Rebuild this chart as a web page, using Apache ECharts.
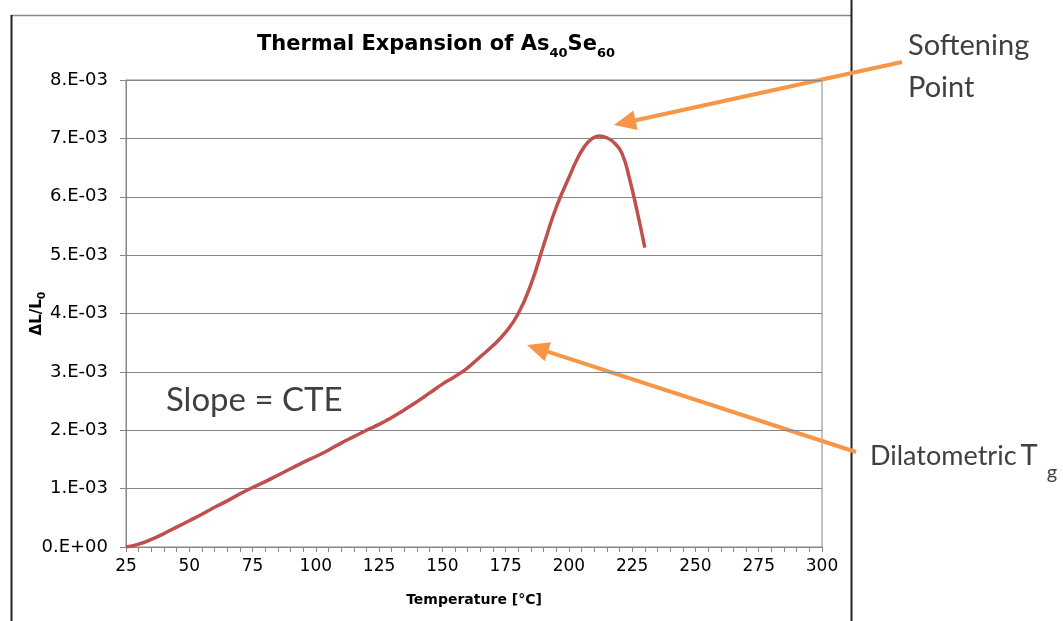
<!DOCTYPE html>
<html>
<head>
<meta charset="utf-8">
<script src="https://cdn.jsdelivr.net/npm/echarts@6/dist/echarts.min.js"></script>
<style>
html, body {margin: 0; padding: 0; background: #fff;}
#chart {width: 1063px; height: 621px;}
</style>
</head>
<body>
<div id="chart"></div>
<script>
// temperature in deg C, expansion dL/L0 in units of 1e-3
var temperature = [25, 30, 35, 40, 45, 50, 55, 60, 65, 70, 75, 80, 85, 90, 95, 100,
		   105, 110, 115, 120, 125, 130, 135, 140, 145, 150, 155, 160, 165, 170,
		   175, 180, 185, 190, 195, 200, 203, 206, 209, 212, 215, 218, 221, 224, 227, 230];
var expansionE3 = [0, 0.05, 0.13, 0.23, 0.34, 0.45, 0.56, 0.68, 0.79, 0.91, 1.02, 1.12, 1.23, 1.34, 1.45, 1.55,
		   1.66, 1.78, 1.89, 2.00, 2.10, 2.22, 2.35, 2.49, 2.64, 2.79, 2.92, 3.07, 3.26, 3.45,
		   3.68, 4.00, 4.50, 5.17, 5.82, 6.33, 6.62, 6.85, 6.99, 7.04, 7.01, 6.92, 6.74, 6.30, 5.74, 5.13];

var xRange = [25, 300, 25];
var yRange = [0, 0.008, 0.001];

var notes = {
    softening: ['Softening', 'Point'],
    slope: 'Slope = CTE',
    tg: ['Dilatometric', 'T', 'g']
};

var orange = '#F79646';
var noteColor = '#404040';

function sciLabel(v)
{
    if (v === 0) return '0.E+00';
    var e = Math.floor(Math.log10(v) + 1e-9);
    var m = Math.round(v / Math.pow(10, e));
    var es = Math.abs(e) < 10 ? '0' + Math.abs(e) : '' + Math.abs(e);
    return m + '.E' + (e < 0 ? '-' : '+') + es;
}

// arrow as line + triangular head, tip/tail in pixels
function arrow(tail, tip)
{
    var dx = tip[0] - tail[0], dy = tip[1] - tail[1];
    var len = Math.sqrt(dx*dx + dy*dy);
    var ux = dx/len, uy = dy/len;
    var hl = 22, hw = 10;
    var bx = tip[0] - ux*hl, by = tip[1] - uy*hl;
    return [{
	type: 'line',
	shape: {x1: tail[0], y1: tail[1], x2: bx + ux*2, y2: by + uy*2},
	style: {stroke: orange, lineWidth: 4}
    }, {
	type: 'polygon',
	shape: {points: [tip, [bx - uy*hw, by + ux*hw], [bx + uy*hw, by - ux*hw]]},
	style: {fill: orange}
    }];
}

var seriesData = temperature.map((t, i) => [t, expansionE3[i] * 1e-3]);

var chart = echarts.init(document.getElementById('chart'));

var labelFont = 'DejaVu Sans';
var noteFont = 'Lato';

var graphics = [
    {type: 'line', shape: {x1: 11, y1: 15.5, x2: 851, y2: 15.5}, style: {stroke: '#888', lineWidth: 1.5}},
    {type: 'line', shape: {x1: 11.5, y1: 15, x2: 11.5, y2: 621}, style: {stroke: '#222', lineWidth: 2}},
    {type: 'line', shape: {x1: 851.5, y1: 0, x2: 851.5, y2: 621}, style: {stroke: '#222', lineWidth: 2}},
    {type: 'text', left: 908, top: 31, style: {text: notes.softening[0], font: '29px ' + noteFont, fill: noteColor}},
    {type: 'text', left: 908, top: 73, style: {text: notes.softening[1], font: '29px ' + noteFont, fill: noteColor}},
    {type: 'text', left: 166, top: 384, style: {text: notes.slope, font: '33px ' + noteFont, fill: noteColor}},
    {type: 'text', left: 870, top: 441, style: {
	text: '{a|' + notes.tg[0] + '}{t|' + notes.tg[1] + '}{b|' + notes.tg[2] + '}',
	rich: {
	    a: {font: '27px ' + noteFont, fill: noteColor, verticalAlign: 'bottom', padding: [0, 0, 13, 0]},
	    t: {font: '29px ' + noteFont, fill: noteColor, verticalAlign: 'bottom', padding: [0, 9, 13, 4]},
	    b: {font: '20px ' + noteFont, fill: noteColor, verticalAlign: 'bottom'}
	}
    }}
].concat(arrow([902, 62], [614, 125]), arrow([856, 452], [527, 345]));

chart.setOption({
    animation: false,
    title: {
	text: '{t|Thermal Expansion of As}{s|40}{t|Se}{s|60}',
	left: 431,
	textAlign: 'center',
	top: 29,
	textStyle: {
	    rich: {
		t: {fontFamily: labelFont, fontWeight: 'bold', fontSize: 21, color: '#000', verticalAlign: 'bottom', padding: [0, 0, 5, 0]},
		s: {fontFamily: labelFont, fontWeight: 'bold', fontSize: 13, color: '#000', verticalAlign: 'bottom'}
	    }
	}
    },
    grid: {
	left: 126, top: 80, width: 696, height: 467,
	show: true, borderColor: '#868686', borderWidth: 1
    },
    xAxis: {
	type: 'value',
	min: xRange[0], max: xRange[1], interval: xRange[2],
	name: 'Temperature [°C]',
	nameLocation: 'middle',
	nameGap: 46,
	nameMoveOverlap: false,
	nameTextStyle: {fontFamily: labelFont, fontWeight: 'bold', fontSize: 14, color: '#000'},
	axisLine: {show: true, lineStyle: {color: '#868686'}},
	axisTick: {show: true, length: 5, lineStyle: {color: '#868686'}},
	minorTick: {show: true, splitNumber: 5, length: 5, lineStyle: {color: '#868686'}},
	splitLine: {show: false},
	axisLabel: {fontFamily: labelFont, fontSize: 17, color: '#000', margin: 11}
    },
    yAxis: {
	type: 'value',
	min: yRange[0], max: yRange[1], interval: yRange[2],
	name: '{m|ΔL/L}{s|0}',
	nameLocation: 'middle',
	nameRotate: 90,
	nameGap: 78,
	nameMoveOverlap: false,
	nameTextStyle: {
	    rich: {
		m: {fontFamily: labelFont, fontWeight: 'bold', fontSize: 15, color: '#000', verticalAlign: 'bottom', padding: [0, 0, 3, 0]},
		s: {fontFamily: labelFont, fontWeight: 'bold', fontSize: 11, color: '#000', verticalAlign: 'bottom'}
	    }
	},
	axisLine: {show: true, lineStyle: {color: '#868686'}},
	axisTick: {show: true, length: 6, lineStyle: {color: '#868686'}},
	splitLine: {show: true, lineStyle: {color: '#868686', width: 1}},
	axisLabel: {fontFamily: labelFont, fontSize: 18, color: '#000', margin: 18, formatter: sciLabel}
    },
    series: [{
	type: 'line',
	data: seriesData,
	smooth: 0.5,
	showSymbol: false,
	lineStyle: {color: '#C0504D', width: 3.5},
	itemStyle: {color: '#C0504D'}
    }],
    graphic: graphics
});
</script>
</body>
</html>
